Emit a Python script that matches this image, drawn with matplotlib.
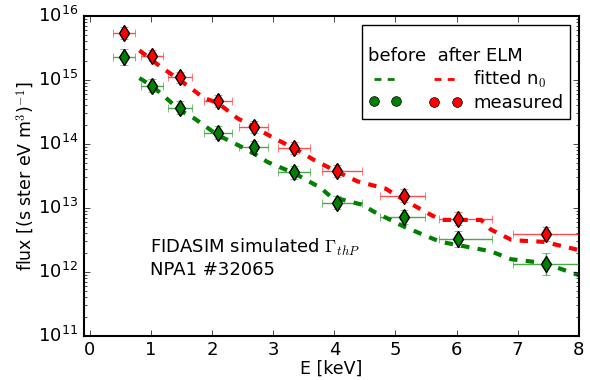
import numpy as np
import matplotlib
matplotlib.use("Agg")
import matplotlib.pyplot as plt
from matplotlib.lines import Line2D

# measured points (energy in keV, flux)
e_meas = [0.55, 1.02, 1.47, 2.09, 2.68, 3.34, 4.04, 5.14, 6.02, 7.46]
e_lo = [0.18, 0.18, 0.20, 0.23, 0.24, 0.26, 0.25, 0.39, 0.31, 0.54]
e_hi = [0.18, 0.18, 0.20, 0.23, 0.24, 0.26, 0.42, 0.35, 0.56, 0.70]

flux_after = [5.4e15, 2.4e15, 1.1e15, 4.7e14, 1.85e14, 8.7e13, 3.8e13, 1.55e13, 6.8e12, 3.9e12]
flux_before = [2.3e15, 8.1e14, 3.7e14, 1.5e14, 8.9e13, 3.6e13, 1.2e13, 7.2e12, 3.3e12, 1.33e12]
dex_after = [0.10, 0.09, 0.09, 0.09, 0.09, 0.09, 0.09, 0.10, 0.10, 0.11]
dex_before = [0.125, 0.10, 0.10, 0.10, 0.10, 0.10, 0.10, 0.11, 0.125, 0.17]

# fitted curves
e_fit_after = [0.81, 1.16, 1.47, 1.87, 2.09, 2.42, 2.68, 3.02, 3.34, 3.67, 4.04, 4.38, 4.84,
               5.14, 5.58, 5.74, 6.40, 6.56, 6.89, 7.00, 7.43, 8.0]
fit_after = [2.9e15, 1.6e15, 1.0e15, 5.2e14, 4.4e14, 2.5e14, 1.85e14, 1.22e14, 8.6e13, 5.6e13,
             3.7e13, 2.6e13, 2.0e13, 1.33e13, 7.8e12, 6.5e12, 6.5e12, 4.6e12, 3.2e12, 3.1e12,
             2.95e12, 2.2e12]
e_fit_before = [0.81, 1.03, 1.47, 1.71, 2.09, 2.47, 2.68, 2.91, 3.34, 3.78, 3.94, 4.46, 4.65,
                5.14, 5.58, 5.74, 6.02, 6.56, 6.89, 7.43, 8.0]
fit_before = [1.07e15, 7.9e14, 3.4e14, 2.5e14, 1.38e14, 9.1e13, 7.1e13, 5.2e13, 3.5e13, 2.05e13,
              1.5e13, 1.12e13, 8.7e12, 5.1e12, 3.4e12, 2.95e12, 2.63e12, 2.1e12, 1.58e12,
              1.38e12, 8.9e11]

plt.style.use("classic")
plt.rcParams["font.family"] = ["DejaVu Sans"]

fig = plt.figure(figsize=(5.9, 3.8), dpi=100, facecolor="white")
ax = fig.add_axes([0.142, 0.116, 0.839, 0.842])

ax.plot(e_fit_before, fit_before, "--", color="g", lw=3, zorder=2)
ax.plot(e_fit_after, fit_after, "--", color="r", lw=3, zorder=2)


def draw_meas(flux, dex, color):
    flux = np.array(flux)
    dex = np.array(dex)
    ylo = flux * (1 - 10 ** -dex)
    yhi = flux * (10 ** dex - 1)
    ax.errorbar(e_meas, flux, xerr=[e_lo, e_hi], yerr=[ylo, yhi], fmt="none",
                ecolor=color, elinewidth=1, capsize=3, alpha=0.7, zorder=3)
    ax.plot(e_meas, flux, "d", color=color, mec="k", mew=1, ms=8.5, zorder=4)


draw_meas(flux_before, dex_before, "g")
draw_meas(flux_after, dex_after, "r")

ax.set_yscale("log")
ax.set_xlim(-0.1, 8)
ax.set_ylim(1e11, 1e16)
ax.set_xlabel("E [keV]", fontsize=12.5, labelpad=0)
ax.set_ylabel("flux [(s ster eV m$^3$)$^{-1}$]", fontsize=12.5, labelpad=1)
ax.tick_params(labelsize=13)
for sp in ax.spines.values():
    sp.set_linewidth(1.5)

ax.text(0.133, 0.278, r"FIDASIM simulated $\Gamma_{thP}$", transform=ax.transAxes,
        fontsize=13, va="center", ha="left")
ax.text(0.133, 0.206, "NPA1 #32065", transform=ax.transAxes,
        fontsize=13, va="center", ha="left")

handles = [
    Line2D([], [], color="g", ls=(0, (5, 4.5)), lw=2),
    Line2D([], [], color="g", marker="o", ls="none", mec="k", ms=7),
    Line2D([], [], color="r", ls=(0, (5, 4.5)), lw=2),
    Line2D([], [], color="r", marker="o", ls="none", mec="k", ms=7),
]
labels = ["", "", "fitted n$_0$", "measured"]
leg = ax.legend(handles, labels, ncol=2, loc="upper right", fontsize=13, numpoints=2,
                title="\nbefore  after ELM", title_fontsize=13, alignment="left",
                handlelength=1.85, handletextpad=0.63, columnspacing=0.86,
                borderpad=0.35, labelspacing=0.22)
leg.get_title().set_linespacing(0.85)

fig.savefig("out.png", dpi=100, facecolor="white")
